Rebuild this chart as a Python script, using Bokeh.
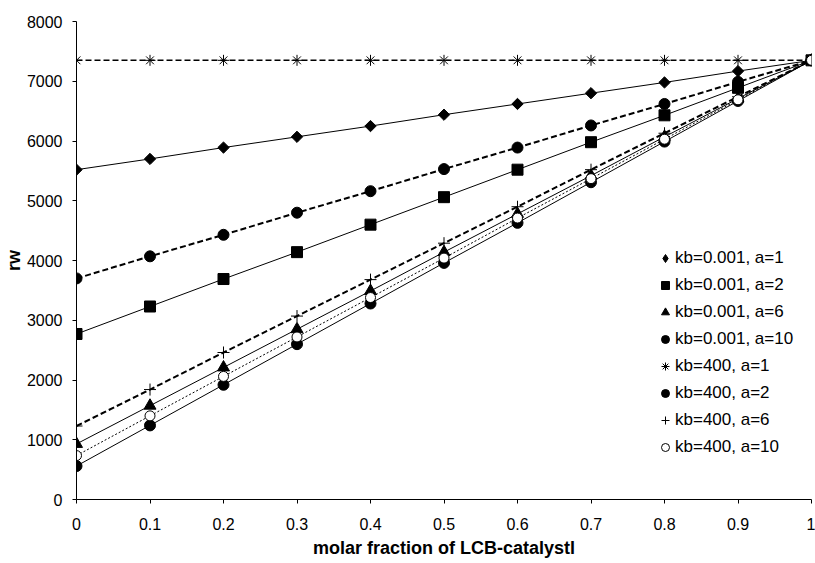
import math
from bokeh.plotting import figure
from bokeh.models import Range1d, FixedTicker, NumeralTickFormatter, Legend, LegendItem, ColumnDataSource
from bokeh.embed import file_html
from bokeh.resources import INLINE

# ---- data ----
x_frac = [0, 0.1, 0.2, 0.3, 0.4, 0.5, 0.6, 0.7, 0.8, 0.9, 1.0]
y_ticks = [0, 1000, 2000, 3000, 4000, 5000, 6000, 7000, 8000]

kb0001_a1 = [5520, 5700, 5890, 6070, 6250, 6440, 6620, 6800, 6980, 7170, 7350]
kb0001_a2 = [2770, 3230, 3690, 4140, 4600, 5060, 5520, 5980, 6430, 6890, 7350]
kb0001_a6 = [930, 1570, 2210, 2850, 3490, 4140, 4780, 5420, 6070, 6710, 7350]
kb0001_a10 = [560, 1240, 1920, 2600, 3280, 3960, 4630, 5310, 5990, 6670, 7350]
kb400_a1 = [7350, 7350, 7350, 7350, 7350, 7350, 7350, 7350, 7350, 7350, 7350]
kb400_a2 = [3700, 4070, 4430, 4800, 5160, 5530, 5890, 6260, 6620, 6990, 7350]
kb400_a6 = [1230, 1840, 2460, 3070, 3680, 4290, 4900, 5520, 6130, 6740, 7350]
kb400_a10 = [735, 1400, 2060, 2720, 3380, 4040, 4710, 5370, 6030, 6690, 7350]

labels = ["kb=0.001, a=1", "kb=0.001, a=2", "kb=0.001, a=6", "kb=0.001, a=10",
          "kb=400, a=1", "kb=400, a=2", "kb=400, a=6", "kb=400, a=10"]
series = [kb0001_a1, kb0001_a2, kb0001_a6, kb0001_a10,
          kb400_a1, kb400_a2, kb400_a6, kb400_a10]

# ---- styles ----
markers = ["square", "square", "triangle", "circle", "asterisk", "circle", "cross", "circle"]
legend_markers = ["diamond", None, None, None, None, None, None, None]
angles = [math.pi / 4, 0, 0, 0, 0, 0, 0, 0]
sizes = [8, 11, 12, 11, 11, 11, 12, 10]
fills = ["black", "black", "black", "black", "black", "black", "black", "white"]
dashes = ["solid", "solid", "solid", "solid", "6 3", "6 3", "6 3", "2 2"]
widths = [1, 1, 1, 1, 1.5, 2, 2, 1]

FONT = "Liberation Sans"

p = figure(width=815, height=563, output_backend="svg", toolbar_location=None,
           x_range=Range1d(0, 1), y_range=Range1d(0, 8000),
           min_border_left=74, min_border_right=4, min_border_top=21, min_border_bottom=64)
p.outline_line_color = None
p.grid.visible = False

p.xaxis.ticker = FixedTicker(ticks=x_frac)
p.xaxis.formatter = NumeralTickFormatter(format="0.[0]")
p.yaxis.ticker = FixedTicker(ticks=y_ticks)

for ax in (p.xaxis[0], p.yaxis[0]):
    ax.minor_tick_line_color = None
    ax.major_tick_in = 0
    ax.major_tick_out = 4
    ax.axis_line_color = "black"
    ax.major_tick_line_color = "black"
    ax.major_label_text_font = FONT
    ax.major_label_text_font_size = "16px"
    ax.major_label_text_color = "black"
    ax.axis_label_text_font = FONT
    ax.axis_label_text_font_size = "18px"
    ax.axis_label_text_font_style = "bold"
    ax.axis_label_text_color = "black"

p.xaxis.axis_label = "molar fraction of LCB-catalystl"
p.yaxis.axis_label = "rw"
p.xaxis.major_label_standoff = 14
p.xaxis.axis_label_standoff = 5
p.yaxis.major_label_standoff = 10
p.yaxis.axis_label_standoff = 0

items = []
for lab, ys, mk, lmk, ang, sz, fc, dash, lw in zip(labels, series, markers, legend_markers,
                                                    angles, sizes, fills, dashes, widths):
    src = ColumnDataSource(data=dict(x=x_frac, y=ys))
    p.line("x", "y", source=src, line_color="black", line_width=lw, line_dash=dash)
    lr = None
    if lmk is not None:
        # legend glyph renderer, hidden underneath the main markers
        lr = p.scatter("x", "y", source=src, marker=lmk, size=sz, fill_color=fc,
                       line_color="black", line_width=1)
    r = p.scatter("x", "y", source=src, marker=mk, angle=ang, size=sz, fill_color=fc,
                  line_color="black", line_width=1)
    items.append(LegendItem(label=lab, renderers=[lr if lr is not None else r]))

legend = Legend(items=items, location=(579, 42), padding=0, margin=0,
                border_line_alpha=0, background_fill_alpha=0,
                glyph_width=20, glyph_height=20, label_height=20, spacing=7,
                label_standoff=0, label_text_font=FONT, label_text_font_size="17px",
                label_text_color="black")
p.add_layout(legend, "center")

open("out.html", "w").write(file_html(p, INLINE))
